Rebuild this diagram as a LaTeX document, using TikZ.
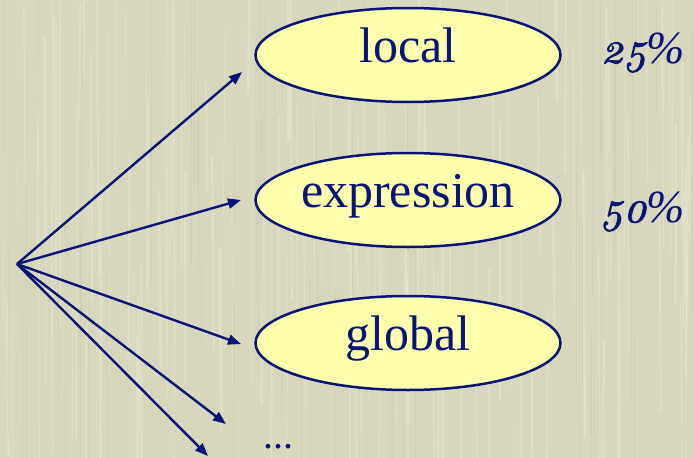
\documentclass[tikz,border=0pt]{standalone}
\usepackage{fontspec}
\setmainfont{Liberation Serif}
\newfontfamily\numfont{lmroman10}[Extension=.otf,UprightFont=*-italic,Numbers=OldStyle,FakeBold=1.6]
\usetikzlibrary{shapes.geometric,arrows.meta}

\definecolor{paper}{RGB}{216,215,190}
\definecolor{streak}{RGB}{232,231,212}
\definecolor{streakdark}{RGB}{200,199,172}
\definecolor{ink}{RGB}{8,20,120}
\definecolor{bubble}{RGB}{255,255,172}

\newcommand{\pct}[1]{{\numfont #1}{\itshape\fontsize{46}{48}\selectfont\%}}

\tikzset{
  choice/.style={ellipse, draw=ink, line width=2.5pt, fill=bubble,
    minimum width=305pt, minimum height=94pt, inner sep=0pt,
    text=ink, font=\fontsize{50}{52}\selectfont,
    text height=14pt, text depth=0pt},
  share/.style={anchor=base, text=ink, inner sep=0pt,
    font=\fontsize{44}{46}\selectfont},
  link/.style={draw=ink, line width=2.4pt,
    -{Triangle[length=13pt,width=10pt]}},
}

\begin{document}
\begin{tikzpicture}[x=1pt,y=-1pt]
  \useasboundingbox (0,0) rectangle (694,458);
  % paper background with faint vertical grain
  \fill[paper] (0,0) rectangle (694,458);
  \begin{scope}
    \clip (0,0) rectangle (694,458);
    \pgfmathsetseed{42}
    \foreach \i in {1,...,140}{
      \pgfmathsetmacro{\xx}{rnd*694}
      \pgfmathsetmacro{\ww}{0.6+rnd*2.2}
      \pgfmathsetmacro{\ya}{rnd*400-60}
      \pgfmathsetmacro{\yb}{\ya+100+rnd*250}
      \draw[streak, line width=\ww pt, opacity=0.45] (\xx,\ya) -- (\xx+rnd*4-2,\yb);
    }
    \foreach \i in {1,...,70}{
      \pgfmathsetmacro{\xx}{rnd*694}
      \pgfmathsetmacro{\ya}{rnd*400-60}
      \pgfmathsetmacro{\yb}{\ya+80+rnd*250}
      \draw[streakdark, line width=1pt, opacity=0.4] (\xx,\ya) -- (\xx,\yb);
    }
  \end{scope}

  % the three options
  \node[choice] (local) at (408,55) {local};
  \node[choice] (expr)  at (408,200) {expression};
  \node[choice] (glob)  at (408,343) {global};

  % shares
  \node[share] (p25) at (643,63) {\pct{25}};
  \node[share] (p50) at (643,222) {\pct{50}};

  % remaining cases
  \node[anchor=base, text=ink, inner sep=0pt, font=\fontsize{40}{42}\selectfont] (more) at (278,448) {...};

  % fan of arrows from the common source
  \coordinate (src) at (17,264);
  \coordinate (t1) at (242,72);
  \coordinate (t2) at (241,200);
  \coordinate (t3) at (241,344);
  \coordinate (t4) at (226,424);
  \coordinate (t5) at (208,456);
  \foreach \t in {t1,t2,t3,t4,t5}
    \draw[link] (src) -- (\t);
\end{tikzpicture}
\end{document}
